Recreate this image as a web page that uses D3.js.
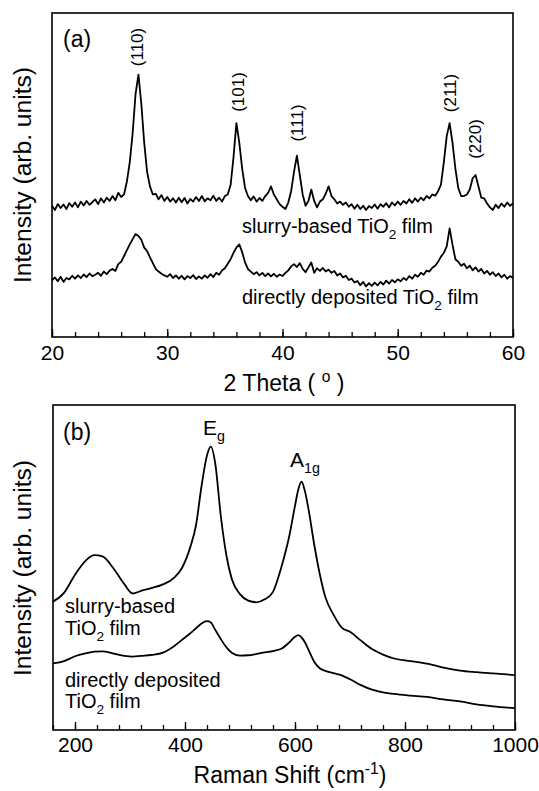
<!DOCTYPE html>
<html>
<head>
<meta charset="utf-8">
<script src="https://cdn.jsdelivr.net/npm/d3@7/dist/d3.min.js"></script>
<style>
  body { margin: 0; background: #fff; }
  svg text { font-family: "Liberation Sans", Arial, sans-serif; fill: #000; }
</style>
</head>
<body>
<svg id="chart" width="539" height="791"></svg>
<script>
// ---- panel (a): XRD, 2 theta sampled every 0.25 deg from 20 to 60 ----
var thetaStart = 20, thetaStep = 0.25;

var xrdSlurry = [
    40.5, 39.2, 41.0, 39.8, 40.9, 39.5, 41.3, 40.2,
    41.5, 40.0, 41.8, 40.6, 42.0, 40.8, 41.6, 42.5,
    41.0, 42.8, 41.5, 43.0, 42.0, 43.5, 42.2, 44.5,
    43.2, 44.0, 48.0, 54.0, 63.0, 75.0, 81.0, 72.0,
    60.0, 51.0, 46.5, 44.0, 44.2, 42.5, 43.8, 42.0,
    43.2, 41.8, 42.8, 41.5, 43.0, 41.6, 42.9, 41.2,
    42.6, 41.8, 43.2, 42.0, 43.5, 41.9, 42.8, 42.2,
    43.6, 42.0, 43.0, 41.8, 43.5, 44.0, 47.0, 55.5,
    66.0, 60.0, 52.0, 46.0, 43.5, 42.2, 43.4, 41.8,
    42.9, 42.0, 43.5, 44.5, 46.5, 44.0, 42.5, 41.0,
    40.2, 39.5, 41.5, 45.0, 51.0, 56.0, 50.0, 44.0,
    40.5, 42.0, 45.5, 42.0, 40.0, 41.8, 42.5, 44.2,
    46.5, 43.5, 42.5, 41.2, 41.8, 40.8, 41.5, 40.2,
    41.0, 39.6, 40.8, 39.5, 40.5, 39.2, 40.4, 39.8,
    40.9, 39.6, 41.0, 40.2, 41.3, 40.0, 41.5, 40.6,
    41.8, 40.8, 42.0, 41.2, 42.5, 41.4, 42.8, 41.8,
    43.0, 42.2, 43.5, 42.8, 44.0, 43.6, 45.0, 47.0,
    54.0, 62.0, 66.0, 60.0, 52.0, 46.0, 43.5, 43.5,
    44.0, 45.5, 49.0, 50.0, 46.5, 43.0, 42.8, 41.2,
    40.0, 39.2, 40.8, 39.8, 41.2, 40.2, 41.5, 40.5,
    41.2
];

var xrdDirect = [
    17.5, 18.4, 17.2, 18.6, 17.0, 18.2, 17.8, 18.9,
    18.0, 19.0, 18.2, 19.3, 18.5, 19.6, 18.8, 19.2,
    19.8, 18.9, 20.2, 19.4, 20.5, 21.0, 20.4, 22.5,
    23.2, 25.0, 26.8, 28.6, 30.2, 31.8, 31.2, 30.0,
    27.6, 26.5, 24.6, 22.8, 21.0, 20.2, 19.5, 19.0,
    18.6, 19.4, 18.2, 19.0, 18.0, 18.9, 17.8, 18.8,
    18.2, 19.1, 17.9, 18.7, 18.0, 19.0, 18.3, 19.4,
    18.5, 19.8, 19.2, 20.5, 21.2, 22.6, 24.0, 26.0,
    27.6, 28.6, 26.2, 23.0, 21.0, 20.2, 19.4, 20.0,
    19.0, 19.8, 18.8, 19.6, 18.7, 19.5, 18.6, 19.3,
    18.8, 19.8, 20.5, 21.8, 22.5, 21.6, 22.8, 21.0,
    20.0, 21.5, 23.0, 19.8, 21.2, 20.4, 21.3, 20.2,
    20.8, 19.8, 20.4, 19.0, 19.6, 18.4, 18.9, 17.6,
    18.0, 16.8, 17.3, 16.0, 17.0, 15.6, 16.6, 15.8,
    16.8, 15.9, 17.0, 16.2, 17.4, 16.5, 17.6, 16.9,
    17.8, 17.2, 18.2, 17.6, 18.8, 18.0, 19.2, 18.6,
    19.8, 19.2, 20.5, 20.2, 21.4, 22.0, 23.2, 24.8,
    26.0, 28.0, 33.5, 28.5, 24.0, 23.2, 22.0, 22.6,
    21.2, 22.0, 20.6, 21.5, 20.2, 21.0, 19.6, 20.4,
    19.2, 20.0, 18.8, 19.6, 18.4, 19.2, 18.0, 18.8,
    18.2
];

var xrdPeaks = ["(110)", "(101)", "(111)", "(211)", "(220)"];
var xrdPeakPos = [27.4, 36.1, 41.3, 54.5, 56.7];
var xrdTicks = [20, 30, 40, 50, 60];

// ---- panel (b): Raman ----
var ramanShift = [160, 180, 200, 220, 235, 250, 270, 290, 305, 320, 340, 360, 380, 395,
    410, 420, 430, 440, 447, 455, 465, 475, 485, 500, 515, 530, 545, 560, 575, 590,
    600, 606, 612, 618, 625, 635, 645, 655, 670, 685, 700, 720, 740, 760, 780, 810, 840, 870,
    900, 930, 960, 1000];

var ramanSlurry = [39.5, 42.2, 47.8, 52.2, 53.8, 53.4, 49.7, 44.8, 42.0, 42.8, 43.7, 44.8, 46.8, 50.0,
    56.5, 63.0, 75.0, 84.5, 87.2, 82.0, 66.0, 54.0, 46.5, 41.8, 39.8, 39.3, 40.2, 42.5, 50.0, 60.0,
    69.0, 74.0, 76.4, 73.5, 67.5, 57.0, 48.0, 41.0, 35.5, 31.5, 30.2, 27.5, 24.9, 23.2, 22.0, 21.2, 20.4, 19.2,
    18.3, 17.8, 17.4, 16.9];

var ramanDirect = [20.5, 21.2, 22.7, 23.6, 24.1, 24.2, 23.5, 22.8, 22.6, 22.8, 23.1, 23.8, 25.8, 27.8,
    29.8, 31.3, 32.8, 33.5, 33.1, 30.8, 28.0, 25.5, 23.8, 22.9, 23.0, 23.4, 23.9, 24.3, 25.0, 27.0,
    28.7, 29.2, 28.5, 27.0, 24.5, 21.0, 19.0, 18.2, 17.5, 16.8, 15.6, 13.8, 12.4, 11.6, 11.1, 10.6, 10.2, 9.4,
    8.8, 7.9, 7.3, 6.7];

var ramanTicks = [200, 400, 600, 800, 1000];

var svg = d3.select("#chart");

function bottomAxis(g, x, y, minor, major, pad) {
    var gm = g.append("g").attr("transform", "translate(0," + y + ")")
        .call(d3.axisBottom(x).tickValues(minor).tickSize(-5).tickFormat(""));
    gm.select(".domain").remove();
    var gM = g.append("g").attr("transform", "translate(0," + y + ")")
        .call(d3.axisBottom(x).tickValues(major).tickSize(-8).tickPadding(pad).tickFormat(d3.format("d")));
    gM.select(".domain").remove();
    g.selectAll(".tick line").attr("stroke", "#000").attr("stroke-width", 1.3);
    gM.selectAll("text").attr("font-size", 21).attr("font-family", "Liberation Sans, Arial, sans-serif");
}

function frame(g, x, y) {
    g.append("rect")
        .attr("x", x.range()[0]).attr("y", y.range()[1])
        .attr("width", x.range()[1] - x.range()[0])
        .attr("height", y.range()[0] - y.range()[1])
        .attr("fill", "none").attr("stroke", "#000").attr("stroke-width", 1.6);
}

function yTitle(g, cx, cy) {
    g.append("text")
        .attr("transform", "translate(" + cx + "," + cy + ") rotate(-90)")
        .attr("text-anchor", "middle")
        .attr("font-size", 23)
        .attr("textLength", 216).attr("lengthAdjust", "spacingAndGlyphs")
        .text("Intensity (arb. units)");
}

// sub/superscript text: parts = [[str, "n"|"sub"|"sup"], ...]
function richText(g, x, y, parts, size, anchor) {
    var t = g.append("text").attr("x", x).attr("y", y).attr("font-size", size)
        .attr("text-anchor", anchor || "start");
    var shift = 0;
    parts.forEach(function(p) {
        var dy = 0;
        if (p[1] == "sub") dy = size * 0.3 - shift;
        else if (p[1] == "sup") dy = -size * 0.4 - shift;
        else dy = -shift;
        shift += dy;
        t.append("tspan").attr("dy", dy)
            .attr("font-size", p[1] == "n" ? size : size * 0.68)
            .text(p[0]);
    });
    return t;
}

// ================= panel (a) =================
var xA = d3.scaleLinear().domain([20, 60]).range([52, 513]);
var yA = d3.scaleLinear().domain([0, 100]).range([337, 13]);
var gA = svg.append("g");

var lineA = d3.line()
    .x(function(d, i) { return xA(thetaStart + i * thetaStep); })
    .y(function(d) { return yA(d); });

[xrdSlurry, xrdDirect].forEach(function(s) {
    gA.append("path").datum(s).attr("d", lineA)
        .attr("fill", "none").attr("stroke", "#000").attr("stroke-width", 1.8)
        .attr("stroke-linejoin", "round");
});

frame(gA, xA, yA);
bottomAxis(gA, xA, 337, d3.range(20, 61, 2), xrdTicks, 8);
yTitle(gA, 31, 175);

gA.append("text").attr("x", 63).attr("y", 47).attr("font-size", 23).text("(a)");

var peakLabelY = [47, 92, 123, 93, 139];
xrdPeaks.forEach(function(lbl, i) {
    gA.append("text")
        .attr("transform", "translate(" + (xA(xrdPeakPos[i]) + 6) + "," + peakLabelY[i] + ") rotate(-90)")
        .attr("text-anchor", "middle").attr("font-size", 17)
        .text(lbl);
});

richText(gA, 242, 233, [["slurry-based TiO", "n"], ["2", "sub"], [" film", "n"]], 20);
richText(gA, 242, 304, [["directly deposited TiO", "n"], ["2", "sub"], [" film", "n"]], 20);
richText(gA, 284, 391, [["2 Theta ( ", "n"], ["o", "sup"], [" )", "n"]], 23, "middle");

// ================= panel (b) =================
var xB = d3.scaleLinear().domain([160, 1000]).range([53, 515]);
var yB = d3.scaleLinear().domain([0, 100]).range([730, 405]);
var gB = svg.append("g");

var lineB = d3.line()
    .x(function(d, i) { return xB(ramanShift[i]); })
    .y(function(d) { return yB(d); })
    .curve(d3.curveMonotoneX);

[ramanSlurry, ramanDirect].forEach(function(s) {
    gB.append("path").datum(s).attr("d", lineB)
        .attr("fill", "none").attr("stroke", "#000").attr("stroke-width", 1.8);
});

frame(gB, xB, yB);
bottomAxis(gB, xB, 730, d3.range(160, 1001, 40), ramanTicks, 7);
yTitle(gB, 31, 568);

gB.append("text").attr("x", 63).attr("y", 440).attr("font-size", 23).text("(b)");
richText(gB, 203, 435, [["E", "n"], ["g", "sub"]], 21);
richText(gB, 290, 467, [["A", "n"], ["1g", "sub"]], 21);

richText(gB, 65, 613, [["slurry-based", "n"]], 20);
richText(gB, 65, 635, [["TiO", "n"], ["2", "sub"], [" film", "n"]], 20);
richText(gB, 65, 687, [["directly deposited", "n"]], 20);
richText(gB, 65, 708, [["TiO", "n"], ["2", "sub"], [" film", "n"]], 20);

richText(gB, 290, 783, [["Raman Shift (cm", "n"], ["-1", "sup"], [")", "n"]], 23, "middle");
</script>
</body>
</html>
